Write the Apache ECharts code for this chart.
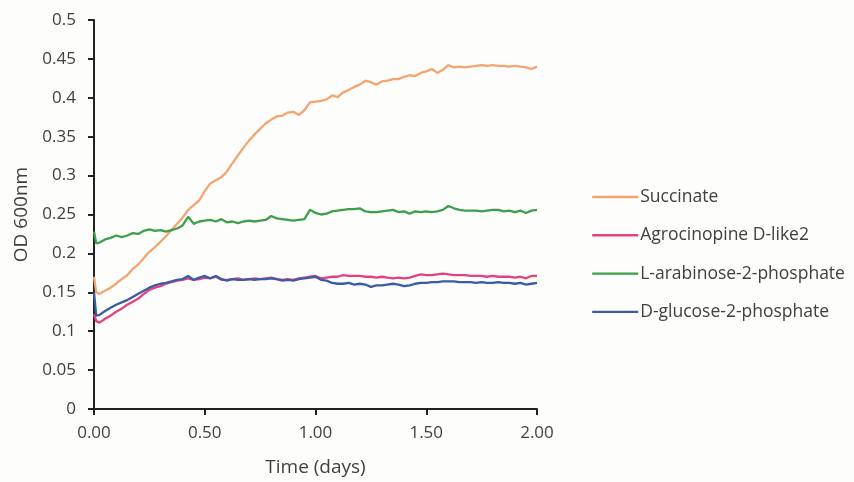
<!DOCTYPE html>
<html>
<head>
<meta charset="utf-8">
<script src="https://cdn.jsdelivr.net/npm/echarts@6/dist/echarts.min.js"></script>
<style>html,body{margin:0;padding:0;background:#fdfdfb;}#c{width:854px;height:482px;}</style>
</head>
<body>
<div id="c"></div>
<script>
const timeDays = [0,0.01,0.025,0.05,0.075,0.1,0.125,0.15,0.175,0.2,0.225,0.25,0.275,0.3,0.325,0.35,0.375,0.4,0.425,0.45,0.475,0.5,0.525,0.55,0.575,0.6,0.625,0.65,0.675,0.7,0.725,0.75,0.775,0.8,0.825,0.85,0.875,0.9,0.925,0.95,0.975,1.0,1.025,1.05,1.075,1.1,1.125,1.15,1.175,1.2,1.225,1.25,1.275,1.3,1.325,1.35,1.375,1.4,1.425,1.45,1.475,1.5,1.525,1.55,1.575,1.6,1.625,1.65,1.675,1.7,1.725,1.75,1.775,1.8,1.825,1.85,1.875,1.9,1.925,1.95,1.975,2.0];

const succinate = [0.170,0.150,0.148,0.152,0.156,0.161,0.167,0.172,0.180,0.186,0.194,0.202,0.208,0.215,0.222,0.230,0.238,0.246,0.256,0.262,0.268,0.280,0.290,0.294,0.298,0.305,0.316,0.326,0.336,0.345,0.353,0.360,0.367,0.372,0.376,0.377,0.381,0.382,0.378,0.384,0.394,0.395,0.396,0.398,0.403,0.401,0.407,0.410,0.414,0.417,0.422,0.420,0.417,0.421,0.422,0.424,0.424,0.427,0.429,0.428,0.432,0.434,0.437,0.432,0.436,0.442,0.439,0.440,0.439,0.440,0.441,0.442,0.441,0.442,0.441,0.441,0.440,0.441,0.440,0.439,0.437,0.440];

const agrocinopine = [0.122,0.113,0.111,0.116,0.120,0.125,0.129,0.134,0.138,0.142,0.148,0.153,0.156,0.158,0.161,0.163,0.165,0.166,0.168,0.166,0.167,0.169,0.168,0.170,0.166,0.166,0.167,0.168,0.166,0.167,0.168,0.167,0.168,0.169,0.167,0.166,0.167,0.166,0.168,0.169,0.170,0.171,0.168,0.169,0.170,0.170,0.172,0.171,0.171,0.171,0.170,0.170,0.169,0.170,0.169,0.168,0.169,0.168,0.169,0.171,0.173,0.172,0.172,0.173,0.174,0.173,0.172,0.172,0.172,0.171,0.171,0.171,0.170,0.171,0.170,0.170,0.170,0.169,0.170,0.168,0.171,0.171];

const arabinose = [0.228,0.213,0.214,0.218,0.220,0.223,0.221,0.223,0.226,0.225,0.229,0.231,0.229,0.230,0.228,0.230,0.232,0.236,0.247,0.238,0.241,0.242,0.243,0.241,0.244,0.240,0.241,0.239,0.241,0.242,0.241,0.242,0.243,0.248,0.245,0.244,0.243,0.242,0.243,0.244,0.256,0.252,0.250,0.251,0.254,0.255,0.256,0.257,0.257,0.258,0.254,0.253,0.253,0.254,0.255,0.256,0.253,0.254,0.251,0.254,0.253,0.254,0.253,0.254,0.256,0.261,0.258,0.256,0.255,0.255,0.255,0.254,0.255,0.256,0.256,0.254,0.255,0.253,0.255,0.252,0.255,0.256];

const glucose = [0.150,0.120,0.121,0.126,0.130,0.134,0.137,0.140,0.144,0.148,0.152,0.156,0.159,0.161,0.162,0.164,0.166,0.167,0.171,0.166,0.169,0.171,0.168,0.171,0.167,0.165,0.167,0.166,0.166,0.167,0.166,0.167,0.167,0.168,0.167,0.165,0.166,0.165,0.167,0.168,0.169,0.170,0.166,0.165,0.162,0.161,0.161,0.162,0.160,0.161,0.160,0.157,0.159,0.159,0.160,0.161,0.160,0.158,0.159,0.161,0.162,0.162,0.163,0.163,0.164,0.164,0.164,0.163,0.163,0.163,0.162,0.163,0.162,0.162,0.163,0.162,0.162,0.161,0.162,0.160,0.161,0.162];

const seriesNames = ['Succinate','Agrocinopine D-like2','L-arabinose-2-phosphate','D-glucose-2-phosphate'];
const seriesColors = ['#F4A470','#E5417F','#3B9F4C','#3A5CA6'];
const seriesValues = [succinate, agrocinopine, arabinose, glucose];

const pair = vals => timeDays.map((t, i) => [t, vals[i]]);
const font = '"Open Sans", "Noto Sans", sans-serif';
const textColor = '#404040';

const chart = echarts.init(document.getElementById('c'), null, {renderer: 'canvas'});
chart.setOption({
  backgroundColor: '#fdfdfb',
  animation: false,
  grid: {left: 94, top: 20, width: 443, height: 390, containLabel: false},
  xAxis: {
    type: 'value', min: 0, max: 2, interval: 0.5,
    name: 'Time (days)', nameLocation: 'middle', nameGap: 49,
    nameTextStyle: {fontSize: 19, color: textColor, fontFamily: font},
    axisLine: {lineStyle: {color: '#222', width: 2}},
    axisTick: {length: 6, lineStyle: {color: '#222', width: 2}},
    axisLabel: {fontSize: 17, color: textColor, fontFamily: font, margin: 16,
      formatter: v => v.toFixed(2)},
    splitLine: {show: false}
  },
  yAxis: {
    type: 'value', min: 0, max: 0.5, interval: 0.05,
    name: 'OD 600nm', nameLocation: 'middle', nameGap: 63,
    nameTextStyle: {fontSize: 19, color: textColor, fontFamily: font},
    axisLine: {show: true, lineStyle: {color: '#222', width: 2}},
    axisTick: {show: true, length: 6, lineStyle: {color: '#222', width: 2}},
    axisLabel: {fontSize: 17, color: textColor, fontFamily: font, margin: 18,
      formatter: v => String(+v.toFixed(2))},
    splitLine: {show: false}
  },
  legend: {
    orient: 'vertical', left: 586, top: 183,
    itemWidth: 46, itemHeight: 14, itemGap: 20.3,
    itemStyle: {opacity: 0},
    lineStyle: {width: 2.4},
    textStyle: {fontSize: 17.5, color: textColor, fontFamily: font, padding: [0,0,0,-3]},
    data: seriesNames
  },
  series: seriesNames.map((n, i) => ({
    name: n, type: 'line', data: pair(seriesValues[i]),
    showSymbol: false, symbol: 'none',
    lineStyle: {color: seriesColors[i], width: 2.3},
    itemStyle: {color: seriesColors[i]},
    z: i + 2
  }))
});
</script>
</body>
</html>
